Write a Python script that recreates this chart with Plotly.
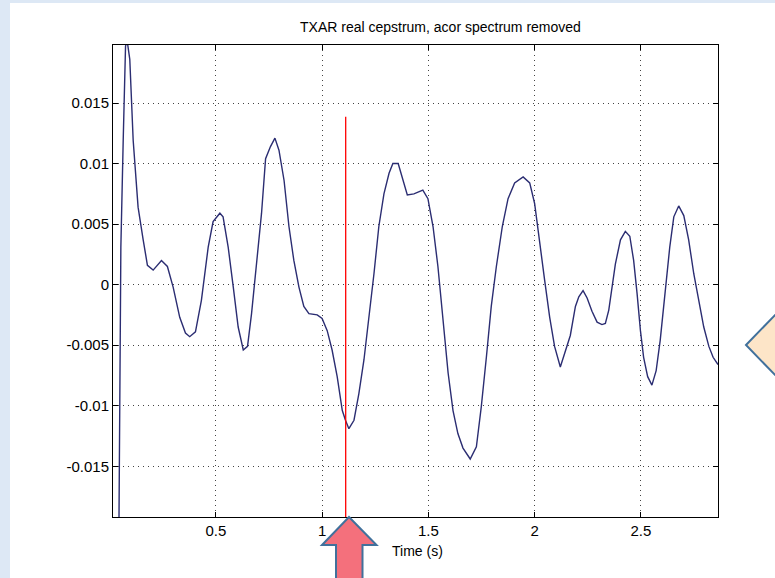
import plotly.graph_objects as go

# ---- data ----
time_s = [0.040, 0.049, 0.053, 0.064, 0.075, 0.083, 0.095, 0.111, 0.134, 0.158, 0.178, 0.205, 0.244, 0.272,
          0.299, 0.330, 0.357, 0.377, 0.404, 0.432, 0.464, 0.487, 0.519, 0.534, 0.558, 0.582, 0.605, 0.629,
          0.649, 0.668, 0.691, 0.715, 0.734, 0.757, 0.778, 0.797, 0.821, 0.844, 0.867, 0.891, 0.914, 0.938,
          0.977, 1.000, 1.024, 1.047, 1.071, 1.095, 1.110, 1.126, 1.150, 1.173, 1.197, 1.220, 1.244, 1.267,
          1.291, 1.315, 1.333, 1.358, 1.401, 1.432, 1.474, 1.498, 1.522, 1.545, 1.569, 1.593, 1.616, 1.639,
          1.663, 1.697, 1.726, 1.749, 1.773, 1.796, 1.820, 1.848, 1.875, 1.906, 1.946, 1.977, 2.000, 2.024,
          2.047, 2.071, 2.094, 2.121, 2.146, 2.168, 2.192, 2.208, 2.228, 2.247, 2.270, 2.294, 2.317, 2.333,
          2.349, 2.364, 2.380, 2.404, 2.427, 2.448, 2.466, 2.482, 2.498, 2.513, 2.532, 2.552, 2.572, 2.591,
          2.615, 2.636, 2.655, 2.678, 2.702, 2.725, 2.749, 2.772, 2.796, 2.820, 2.840, 2.863]
cepstrum = [-0.0300, -0.0118, 0.0031, 0.0119, 0.0197, 0.0201, 0.0186, 0.0119, 0.0064, 0.0037, 0.0016, 0.0012,
            0.0020, 0.0015, -0.0002, -0.0027, -0.0040, -0.0043, -0.0039, -0.0013, 0.0031, 0.0052, 0.0059,
            0.0056, 0.0031, -0.0002, -0.0035, -0.0054, -0.0051, -0.0024, 0.0015, 0.0059, 0.0104, 0.0114,
            0.0121, 0.0111, 0.0086, 0.0048, 0.0020, -0.0002, -0.0018, -0.0024, -0.0025, -0.0028, -0.0038,
            -0.0054, -0.0076, -0.0104, -0.0112, -0.0119, -0.0112, -0.0090, -0.0062, -0.0029, 0.0009, 0.0048,
            0.0075, 0.0092, 0.0100, 0.0100, 0.0074, 0.0075, 0.0078, 0.0071, 0.0048, 0.0015, -0.0032, -0.0073,
            -0.0104, -0.0123, -0.0135, -0.0144, -0.0134, -0.0101, -0.0060, -0.0018, 0.0015, 0.0048, 0.0071,
            0.0084, 0.0089, 0.0084, 0.0067, 0.0037, 0.0004, -0.0027, -0.0051, -0.0068, -0.0055, -0.0042,
            -0.0018, -0.0010, -0.0005, -0.0011, -0.0022, -0.0031, -0.0033, -0.0032, -0.0021, -0.0002, 0.0017,
            0.0037, 0.0044, 0.0040, 0.0020, -0.0007, -0.0038, -0.0060, -0.0076, -0.0083, -0.0071, -0.0046,
            -0.0007, 0.0031, 0.0056, 0.0065, 0.0057, 0.0037, 0.0009, -0.0013, -0.0035, -0.0051, -0.0060,
            -0.0066]
x_tick_vals = [0.5, 1.0, 1.5, 2.0, 2.5]
x_tick_text = ["0.5", "1", "1.5", "2", "2.5"]
y_tick_vals = [0.015, 0.01, 0.005, 0.0, -0.005, -0.01, -0.015]
y_tick_text = ["0.015", "0.01", "0.005", "0", "-0.005", "-0.01", "-0.015"]
marker_time = 1.111
marker_top = 0.01387
x_range = [0.016, 2.863]
y_range = [-0.01919, 0.01979]

W, H = 775, 578
ML, MR, MT, MB = 113, 57, 45, 61
PW, PH = W - ML - MR, H - MT - MB


def px(x):
    return (x - ML) / PW


def py(y):
    return 1 - (y - MT) / PH


def path(points):
    return "M " + " L ".join(f"{px(a):.5f},{py(b):.5f}" for a, b in points) + " Z"


fig = go.Figure()
fig.add_trace(go.Scatter(x=time_s, y=cepstrum, mode="lines",
                         line=dict(color="#2b2d72", width=1.4), hoverinfo="skip"))

font = "Liberation Sans, Arial, Helvetica, sans-serif"
axis_common = dict(showline=True, linecolor="black", linewidth=1, mirror="allticks",
                   ticks="inside", ticklen=5, tickcolor="black",
                   showgrid=True, gridcolor="#444444", gridwidth=1, griddash="1px,4px",
                   zeroline=False, tickfont=dict(family=font, size=15, color="black"))

fig.update_layout(
    width=W, height=H,
    margin=dict(l=ML, r=MR, t=MT, b=MB, pad=0),
    paper_bgcolor="white", plot_bgcolor="white",
    showlegend=False,
    xaxis=dict(range=x_range, tickvals=x_tick_vals, ticktext=x_tick_text, **axis_common),
    yaxis=dict(range=y_range, tickvals=y_tick_vals, ticktext=y_tick_text, **axis_common),
    shapes=[
        # light blue slide border strips
        dict(type="rect", xref="paper", yref="paper", x0=px(0), x1=px(10), y0=py(H), y1=py(0),
             fillcolor="#dde8f5", line=dict(width=0), layer="below"),
        dict(type="rect", xref="paper", yref="paper", x0=px(0), x1=px(W), y0=py(3), y1=py(0),
             fillcolor="#dde8f5", line=dict(width=0), layer="below"),
        # red marker line
        dict(type="line", xref="x", yref="y", x0=marker_time, x1=marker_time, y0=y_range[0], y1=marker_top,
             line=dict(color="#ff0000", width=1.3)),
        # up arrow
        dict(type="path", xref="paper", yref="paper",
             path=path([(349, 517), (376.5, 545), (362.5, 545), (362.5, 585), (336, 585), (336, 545), (322, 545)]),
             fillcolor="#f4707c", line=dict(color="#41719c", width=2)),
        # callout wedge on the right
        dict(type="path", xref="paper", yref="paper",
             path=path([(746, 345), (778, 312), (778, 378)]),
             fillcolor="#fde5c8", line=dict(color="#41719c", width=2)),
    ],
    annotations=[
        dict(text="TXAR real cepstrum, acor spectrum removed", xref="paper", yref="paper",
             x=px(441), y=py(27), xanchor="center", yanchor="middle", showarrow=False,
             font=dict(family=font, size=14, color="black")),
        dict(text="Time (s)", xref="paper", yref="paper",
             x=px(417), y=py(551), xanchor="center", yanchor="middle", showarrow=False,
             font=dict(family=font, size=14, color="black")),
    ],
)

fig.write_html("out.html", config={"displayModeBar": False},
               post_script="document.body.style.margin='0';document.body.style.padding='0';")
